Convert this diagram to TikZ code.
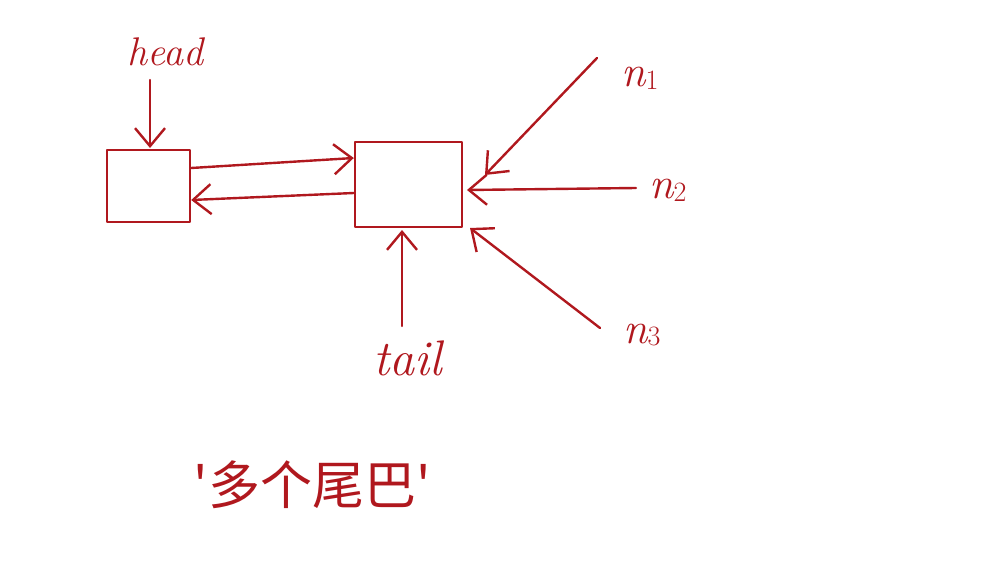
\documentclass[tikz,border=0pt]{standalone}
\usepackage{fontspec}
\newfontfamily\cjk{Noto Sans CJK SC}
\usetikzlibrary{arrows.meta}
\definecolor{ink}{HTML}{B0181E}
\newcommand{\sub}[1]{\raisebox{-0.15ex}{\fontsize{28}{30}\selectfont\upshape #1}}
\begin{document}
\begin{tikzpicture}[x=1pt,y=-1pt,
  ink/.style={draw=ink,line width=2.4pt,line cap=round,line join=round},
  box/.style={ink,minimum width=83pt,minimum height=72pt,inner sep=0pt},
  lab/.style={text=ink,inner sep=0pt,font=\fontsize{40}{44}\selectfont\itshape},
  nlab/.style={text=ink,inner sep=0pt,font=\fontsize{44}{48}\selectfont\itshape},
  arr/.style={ink,-{Straight Barb[length=18pt,width=30pt,line width=2.4pt]}}]
\useasboundingbox (0,0) rectangle (990,575);
\node[box] (b1) at (148.5,186) {};
\node[box,minimum width=107pt,minimum height=85pt] (b2) at (408.5,184.5) {};
\node[lab] (head) at (165,52) {head};
\node[lab,font=\fontsize{50}{54}\selectfont\itshape] (tail) at (408,358) {tail};
\node[nlab] (n1) at (640,78) {n\sub{1}};
\node[nlab] (n2) at (668,190) {n\sub{2}};
\node[nlab] (n3) at (642,335) {n\sub{3}};
\node[text=ink,inner sep=0pt,font=\cjk\fontsize{52}{56}\selectfont] (note) at (312,485) {'多个尾巴'};
\coordinate (h0) at (150,80);
\coordinate (h1) at (150,148);
\draw[arr] (h0) -- (h1);
\draw[arr] (b1.east |- 0,168) -- (b2.west |- 0,158);
\draw[arr] (b2.west |- 0,193) -- (b1.east |- 0,200);
\coordinate (t0) at (402,326);
\coordinate (t1) at (402,230);
\draw[arr] (t0) -- (t1);
\coordinate (a1) at (597,58);
\coordinate (e1) at (485,175);
\draw[arr] (a1) -- (e1);
\coordinate (a2) at (636,188);
\coordinate (e2) at (467,190);
\draw[arr] (a2) -- (e2);
\coordinate (a3) at (600,328);
\coordinate (e3) at (470,228);
\draw[arr] (a3) -- (e3);
\end{tikzpicture}
\end{document}
